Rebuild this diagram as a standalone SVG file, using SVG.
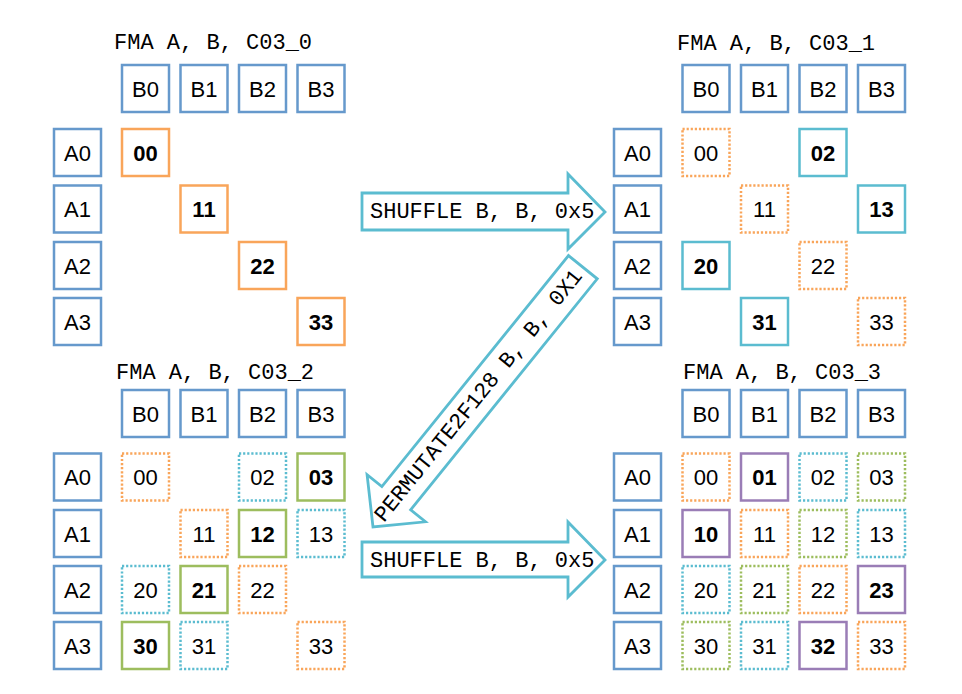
<svg xmlns="http://www.w3.org/2000/svg" width="962" height="694" viewBox="0 0 962 694">
<style>
.bx{fill:#fff;stroke-width:2.5}
.ab{stroke:#6699CC}
.so{stroke:#F9A55A}
.st{stroke:#5BBCD0}
.sg{stroke:#9DBD5E}
.sp{stroke:#9A7DB6}
.d{stroke-dasharray:2.2 1.9}
.t{font-family:"Liberation Sans",Arial,Helvetica,sans-serif;font-size:22px;text-anchor:middle;fill:#000}
.b{font-weight:bold}
.m{font-family:"Liberation Mono","Courier New",monospace;font-size:22px;fill:#000}
.ar{fill:#fff;stroke:#5BBCD0;stroke-width:2.8;stroke-linejoin:miter}
</style>

<!-- Panel labels -->
<text id="label0" class="m" x="114" y="49">FMA A, B, C03_0</text>
<text id="label1" class="m" x="677" y="50">FMA A, B, C03_1</text>
<text id="label2" class="m" x="116" y="379">FMA A, B, C03_2</text>
<text id="label3" class="m" x="683" y="379">FMA A, B, C03_3</text>

<!-- ===== Panel 0 (top-left) ===== -->
<g id="p0">
<g id="p0-B0"><rect class="bx ab" x="122" y="65" width="47" height="47"/><text class="t" x="145.5" y="96.5">B0</text></g>
<g id="p0-B1"><rect class="bx ab" x="180.5" y="65" width="47" height="47"/><text class="t" x="204" y="96.5">B1</text></g>
<g id="p0-B2"><rect class="bx ab" x="239" y="65" width="47" height="47"/><text class="t" x="262.5" y="96.5">B2</text></g>
<g id="p0-B3"><rect class="bx ab" x="297.5" y="65" width="47" height="47"/><text class="t" x="321" y="96.5">B3</text></g>
<g id="p0-A0"><rect class="bx ab" x="54" y="129" width="47" height="47"/><text class="t" x="77.5" y="160.5">A0</text></g>
<g id="p0-A1"><rect class="bx ab" x="54" y="185.5" width="47" height="47"/><text class="t" x="77.5" y="217">A1</text></g>
<g id="p0-A2"><rect class="bx ab" x="54" y="242" width="47" height="47"/><text class="t" x="77.5" y="273.5">A2</text></g>
<g id="p0-A3"><rect class="bx ab" x="54" y="298" width="47" height="47"/><text class="t" x="77.5" y="329.5">A3</text></g>
<g id="p0-00"><rect class="bx so" x="122" y="129" width="47" height="47"/><text class="t b" x="145.5" y="160.5">00</text></g>
<g id="p0-11"><rect class="bx so" x="180.5" y="185.5" width="47" height="47"/><text class="t b" x="204" y="217">11</text></g>
<g id="p0-22"><rect class="bx so" x="239" y="242" width="47" height="47"/><text class="t b" x="262.5" y="273.5">22</text></g>
<g id="p0-33"><rect class="bx so" x="297.5" y="298" width="47" height="47"/><text class="t b" x="321" y="329.5">33</text></g>
</g>

<!-- ===== Panel 1 (top-right) ===== -->
<g id="p1">
<g id="p1-B0"><rect class="bx ab" x="682.5" y="65" width="47" height="47"/><text class="t" x="706" y="96.5">B0</text></g>
<g id="p1-B1"><rect class="bx ab" x="741" y="65" width="47" height="47"/><text class="t" x="764.5" y="96.5">B1</text></g>
<g id="p1-B2"><rect class="bx ab" x="799.5" y="65" width="47" height="47"/><text class="t" x="823" y="96.5">B2</text></g>
<g id="p1-B3"><rect class="bx ab" x="858" y="65" width="47" height="47"/><text class="t" x="881.5" y="96.5">B3</text></g>
<g id="p1-A0"><rect class="bx ab" x="614" y="129" width="47" height="47"/><text class="t" x="637.5" y="160.5">A0</text></g>
<g id="p1-A1"><rect class="bx ab" x="614" y="185.5" width="47" height="47"/><text class="t" x="637.5" y="217">A1</text></g>
<g id="p1-A2"><rect class="bx ab" x="614" y="242" width="47" height="47"/><text class="t" x="637.5" y="273.5">A2</text></g>
<g id="p1-A3"><rect class="bx ab" x="614" y="298" width="47" height="47"/><text class="t" x="637.5" y="329.5">A3</text></g>
<g id="p1-00"><rect class="bx so d" x="682.5" y="129" width="47" height="47"/><text class="t" x="706" y="160.5">00</text></g>
<g id="p1-11"><rect class="bx so d" x="741" y="185.5" width="47" height="47"/><text class="t" x="764.5" y="217">11</text></g>
<g id="p1-22"><rect class="bx so d" x="799.5" y="242" width="47" height="47"/><text class="t" x="823" y="273.5">22</text></g>
<g id="p1-33"><rect class="bx so d" x="858" y="298" width="47" height="47"/><text class="t" x="881.5" y="329.5">33</text></g>
<g id="p1-02"><rect class="bx st" x="799.5" y="129" width="47" height="47"/><text class="t b" x="823" y="160.5">02</text></g>
<g id="p1-13"><rect class="bx st" x="858" y="185.5" width="47" height="47"/><text class="t b" x="881.5" y="217">13</text></g>
<g id="p1-20"><rect class="bx st" x="682.5" y="242" width="47" height="47"/><text class="t b" x="706" y="273.5">20</text></g>
<g id="p1-31"><rect class="bx st" x="741" y="298" width="47" height="47"/><text class="t b" x="764.5" y="329.5">31</text></g>
</g>

<!-- ===== Panel 2 (bottom-left) ===== -->
<g id="p2">
<g id="p2-B0"><rect class="bx ab" x="122" y="390" width="47" height="47"/><text class="t" x="145.5" y="421.5">B0</text></g>
<g id="p2-B1"><rect class="bx ab" x="180.5" y="390" width="47" height="47"/><text class="t" x="204" y="421.5">B1</text></g>
<g id="p2-B2"><rect class="bx ab" x="239" y="390" width="47" height="47"/><text class="t" x="262.5" y="421.5">B2</text></g>
<g id="p2-B3"><rect class="bx ab" x="297.5" y="390" width="47" height="47"/><text class="t" x="321" y="421.5">B3</text></g>
<g id="p2-A0"><rect class="bx ab" x="54" y="453.5" width="47" height="47"/><text class="t" x="77.5" y="485">A0</text></g>
<g id="p2-A1"><rect class="bx ab" x="54" y="510" width="47" height="47"/><text class="t" x="77.5" y="541.5">A1</text></g>
<g id="p2-A2"><rect class="bx ab" x="54" y="566" width="47" height="47"/><text class="t" x="77.5" y="597.5">A2</text></g>
<g id="p2-A3"><rect class="bx ab" x="54" y="622" width="47" height="47"/><text class="t" x="77.5" y="653.5">A3</text></g>
<g id="p2-00"><rect class="bx so d" x="122" y="453.5" width="47" height="47"/><text class="t" x="145.5" y="485">00</text></g>
<g id="p2-11"><rect class="bx so d" x="180.5" y="510" width="47" height="47"/><text class="t" x="204" y="541.5">11</text></g>
<g id="p2-22"><rect class="bx so d" x="239" y="566" width="47" height="47"/><text class="t" x="262.5" y="597.5">22</text></g>
<g id="p2-33"><rect class="bx so d" x="297.5" y="622" width="47" height="47"/><text class="t" x="321" y="653.5">33</text></g>
<g id="p2-02"><rect class="bx st d" x="239" y="453.5" width="47" height="47"/><text class="t" x="262.5" y="485">02</text></g>
<g id="p2-13"><rect class="bx st d" x="297.5" y="510" width="47" height="47"/><text class="t" x="321" y="541.5">13</text></g>
<g id="p2-20"><rect class="bx st d" x="122" y="566" width="47" height="47"/><text class="t" x="145.5" y="597.5">20</text></g>
<g id="p2-31"><rect class="bx st d" x="180.5" y="622" width="47" height="47"/><text class="t" x="204" y="653.5">31</text></g>
<g id="p2-03"><rect class="bx sg" x="297.5" y="453.5" width="47" height="47"/><text class="t b" x="321" y="485">03</text></g>
<g id="p2-12"><rect class="bx sg" x="239" y="510" width="47" height="47"/><text class="t b" x="262.5" y="541.5">12</text></g>
<g id="p2-21"><rect class="bx sg" x="180.5" y="566" width="47" height="47"/><text class="t b" x="204" y="597.5">21</text></g>
<g id="p2-30"><rect class="bx sg" x="122" y="622" width="47" height="47"/><text class="t b" x="145.5" y="653.5">30</text></g>
</g>

<!-- ===== Panel 3 (bottom-right) ===== -->
<g id="p3">
<g id="p3-B0"><rect class="bx ab" x="682.5" y="390" width="47" height="47"/><text class="t" x="706" y="421.5">B0</text></g>
<g id="p3-B1"><rect class="bx ab" x="741" y="390" width="47" height="47"/><text class="t" x="764.5" y="421.5">B1</text></g>
<g id="p3-B2"><rect class="bx ab" x="799.5" y="390" width="47" height="47"/><text class="t" x="823" y="421.5">B2</text></g>
<g id="p3-B3"><rect class="bx ab" x="858" y="390" width="47" height="47"/><text class="t" x="881.5" y="421.5">B3</text></g>
<g id="p3-A0"><rect class="bx ab" x="614" y="453.5" width="47" height="47"/><text class="t" x="637.5" y="485">A0</text></g>
<g id="p3-A1"><rect class="bx ab" x="614" y="510" width="47" height="47"/><text class="t" x="637.5" y="541.5">A1</text></g>
<g id="p3-A2"><rect class="bx ab" x="614" y="566" width="47" height="47"/><text class="t" x="637.5" y="597.5">A2</text></g>
<g id="p3-A3"><rect class="bx ab" x="614" y="622" width="47" height="47"/><text class="t" x="637.5" y="653.5">A3</text></g>
<g id="p3-00"><rect class="bx so d" x="682.5" y="453.5" width="47" height="47"/><text class="t" x="706" y="485">00</text></g>
<g id="p3-11"><rect class="bx so d" x="741" y="510" width="47" height="47"/><text class="t" x="764.5" y="541.5">11</text></g>
<g id="p3-22"><rect class="bx so d" x="799.5" y="566" width="47" height="47"/><text class="t" x="823" y="597.5">22</text></g>
<g id="p3-33"><rect class="bx so d" x="858" y="622" width="47" height="47"/><text class="t" x="881.5" y="653.5">33</text></g>
<g id="p3-02"><rect class="bx st d" x="799.5" y="453.5" width="47" height="47"/><text class="t" x="823" y="485">02</text></g>
<g id="p3-13"><rect class="bx st d" x="858" y="510" width="47" height="47"/><text class="t" x="881.5" y="541.5">13</text></g>
<g id="p3-20"><rect class="bx st d" x="682.5" y="566" width="47" height="47"/><text class="t" x="706" y="597.5">20</text></g>
<g id="p3-31"><rect class="bx st d" x="741" y="622" width="47" height="47"/><text class="t" x="764.5" y="653.5">31</text></g>
<g id="p3-03"><rect class="bx sg d" x="858" y="453.5" width="47" height="47"/><text class="t" x="881.5" y="485">03</text></g>
<g id="p3-12"><rect class="bx sg d" x="799.5" y="510" width="47" height="47"/><text class="t" x="823" y="541.5">12</text></g>
<g id="p3-21"><rect class="bx sg d" x="741" y="566" width="47" height="47"/><text class="t" x="764.5" y="597.5">21</text></g>
<g id="p3-30"><rect class="bx sg d" x="682.5" y="622" width="47" height="47"/><text class="t" x="706" y="653.5">30</text></g>
<g id="p3-01"><rect class="bx sp" x="741" y="453.5" width="47" height="47"/><text class="t b" x="764.5" y="485">01</text></g>
<g id="p3-10"><rect class="bx sp" x="682.5" y="510" width="47" height="47"/><text class="t b" x="706" y="541.5">10</text></g>
<g id="p3-23"><rect class="bx sp" x="858" y="566" width="47" height="47"/><text class="t b" x="881.5" y="597.5">23</text></g>
<g id="p3-32"><rect class="bx sp" x="799.5" y="622" width="47" height="47"/><text class="t b" x="823" y="653.5">32</text></g>
</g>

<!-- ===== Connectors (block arrows) ===== -->
<g id="connectors">
<g id="arrow-shuffle-1">
<path class="ar" d="M362,193 L568,193 L568,174 L605,212 L568,249 L568,230 L362,230 Z"/>
<text class="m" x="370" y="218">SHUFFLE B, B, 0x5</text>
</g>
<g id="arrow-permute" transform="translate(373,527) rotate(-51.07)">
<path class="ar" d="M0,0 L37,-37.5 L37,-18.5 L334,-18.5 L334,18.5 L37,18.5 L37,37.5 Z"/>
<text class="m" x="10" y="6">PERMUTATE2F128 B, B, 0X1</text>
</g>
<g id="arrow-shuffle-2">
<path class="ar" d="M362,542 L568,542 L568,522 L605,560 L568,597 L568,577 L362,577 Z"/>
<text class="m" x="370" y="567">SHUFFLE B, B, 0x5</text>
</g>
</g>
</svg>
